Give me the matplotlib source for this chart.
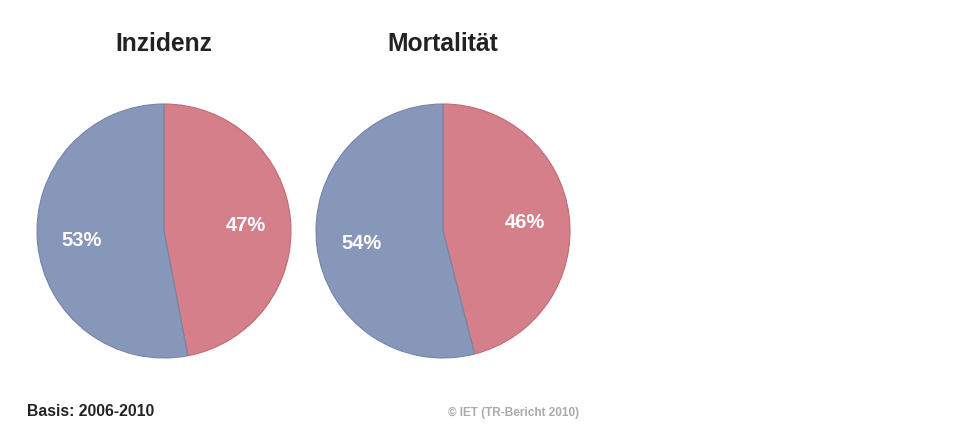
import matplotlib
matplotlib.use("Agg")
import matplotlib.pyplot as plt

# Data
titles = ["Inzidenz", "Mortalität"]
categories = ["Frauen", "Männer"]
values_inzidenz = [47, 53]
values_mortalitaet = [46, 54]
all_values = [values_inzidenz, values_mortalitaet]
footnote_left = "Basis: 2006-2010"
footnote_right = "© IET (TR-Bericht 2010)"

colors = ["#D47F89", "#8797BA"]
edge_colors = ["#C06A75", "#7485AA"]

plt.rcParams['font.family'] = ['Liberation Sans', 'DejaVu Sans']

W, H = 959, 424
fig = plt.figure(figsize=(W / 100, H / 100), dpi=100)
ax = fig.add_axes([0, 0, 1, 1])
ax.set_xlim(0, W)
ax.set_ylim(0, H)
ax.set_aspect('equal')
ax.axis('off')

centers_x = [164, 443]
center_y = H - 231
radius = 127

for cx, title, vals in zip(centers_x, titles, all_values):
    wedges, texts, autotexts = ax.pie(
        vals, startangle=90, counterclock=False, colors=colors,
        center=(cx, center_y), radius=radius, frame=True,
        autopct=lambda p: f"{p:.0f}%", pctdistance=0.65,
        textprops=dict(color="white", fontsize=14.5, fontweight="bold"),
    )
    for w, ec in zip(wedges, edge_colors):
        w.set_edgecolor(ec)
        w.set_linewidth(0.8)
    for t in autotexts:
        x, y = t.get_position()
        t.set_position((x, y - 2))
    ax.text(cx, H - 44, title, ha="center", va="center",
            fontsize=17.7, fontweight="bold", color="#222222")

ax.set_xlim(0, W)
ax.set_ylim(0, H)
ax.axis('off')

ax.text(27, H - 412, footnote_left, ha="left", va="center",
        fontsize=11.3, fontweight="bold", color="#222222")
ax.text(514, H - 413, footnote_right, ha="center", va="center",
        fontsize=8.5, fontweight="bold", color="#AAAAAA")

fig.savefig("out.png", dpi=100)
